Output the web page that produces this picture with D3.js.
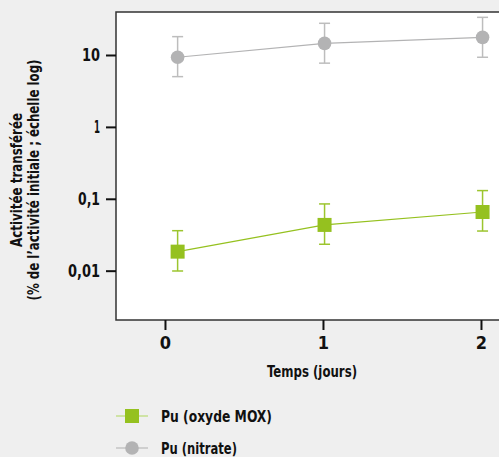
<!DOCTYPE html>
<html><head><meta charset="utf-8">
<script src="https://cdn.jsdelivr.net/npm/d3@7"></script>
<style>
body{margin:0;background:#efefef;}
svg{display:block;}
text{font-family:"DejaVu Sans Condensed","Liberation Sans Narrow",sans-serif;font-weight:bold;fill:#111;}
</style></head>
<body><svg id="c" width="499" height="457"></svg>
<script>
const days = [0.08, 1.01, 2.01];
const moxValues = [0.0184, 0.0433, 0.0655];
const moxLow = [0.0099, 0.0233, 0.0356];
const moxHigh = [0.036, 0.0848, 0.130];
const nitrateValues = [9.3, 14.5, 17.6];
const nitrateLow = [5.0, 7.7, 9.3];
const nitrateHigh = [18, 27.6, 33.4];
const xTicks = [0, 1, 2];
const yTicks = [0.01, 0.1, 1, 10];
const yTickLabels = ["0,01", "0,1", "1", "10"];
const seriesNames = ["Pu (oxyde MOX)", "Pu (nitrate)"];

const svg = d3.select("#c");
const L = 116, T = 12, B = 320, R = 520;
const x = d3.scaleLinear().domain([-0.31, 2.43]).range([L, L + (2.43 + 0.31) * 158]);
const y = d3.scaleLog().domain([Math.pow(10, -2.686), Math.pow(10, 1.598)]).range([B, T]);

svg.append("rect").attr("x", L).attr("y", T).attr("width", R - L).attr("height", B - T)
  .attr("fill", "#fff").attr("stroke", "#333").attr("stroke-width", 1.5);

const xAxis = svg.append("g").attr("transform", `translate(0,${B})`)
  .call(d3.axisBottom(x).tickValues(xTicks).tickFormat(d3.format("d")).tickSize(10).tickPadding(6));
xAxis.select(".domain").remove();
xAxis.selectAll("line").attr("stroke", "#111").attr("stroke-width", 2);
xAxis.selectAll("text").style("font-size", "18px").attr("fill", "#111");

const yAxis = svg.append("g").attr("transform", `translate(${L},0)`)
  .call(d3.axisLeft(y).tickValues(yTicks).tickFormat((d, i) => yTickLabels[i]).tickSize(10).tickPadding(6));
yAxis.select(".domain").remove();
yAxis.selectAll("line").attr("stroke", "#111").attr("stroke-width", 2);
yAxis.selectAll("text").style("font-size", "18px").attr("fill", "#111")
  .attr("textLength", (d, i) => [32, 22, 6, 18][i]).attr("lengthAdjust", "spacingAndGlyphs");

svg.append("text").attr("x", 312).attr("y", 377).attr("text-anchor", "middle")
  .style("font-size", "16.5px").attr("textLength", 90).attr("lengthAdjust", "spacingAndGlyphs")
  .text("Temps (jours)");

const yt = svg.append("text").attr("transform", "translate(22,180) rotate(-90)")
  .attr("text-anchor", "middle").style("font-size", "15px");
yt.append("tspan").attr("x", 0).attr("dy", 0).attr("textLength", 134).attr("lengthAdjust", "spacingAndGlyphs").text("Activitée transférée");
yt.append("tspan").attr("x", 0).attr("dy", 17).attr("textLength", 241).attr("lengthAdjust", "spacingAndGlyphs").text("(% de l’activité initiale ; échelle log)");

const plot = svg.append("g");
function drawSeries(vals, lo, hi, color, errColor, shape) {
  const line = d3.line().x((d, i) => x(days[i])).y(d => y(d));
  plot.append("path").datum(vals).attr("d", line).attr("fill", "none")
    .attr("stroke", color).attr("stroke-width", 1.2);
  vals.forEach((v, i) => {
    const cx = x(days[i]);
    const g = plot.append("g");
    g.append("line").attr("x1", cx).attr("x2", cx).attr("y1", y(lo[i])).attr("y2", y(hi[i]))
      .attr("stroke", errColor).attr("stroke-width", 1.5);
    [lo[i], hi[i]].forEach(e => g.append("line").attr("x1", cx - 5.5).attr("x2", cx + 5.5)
      .attr("y1", y(e)).attr("y2", y(e)).attr("stroke", errColor).attr("stroke-width", 1.5));
    if (shape === "square") {
      g.append("rect").attr("x", cx - 7).attr("y", y(v) - 7).attr("width", 14).attr("height", 14).attr("fill", color);
    } else {
      g.append("circle").attr("cx", cx).attr("cy", y(v)).attr("r", 6.8).attr("fill", color);
    }
  });
}
drawSeries(nitrateValues, nitrateLow, nitrateHigh, "#b3b3b4", "#bdbdbd", "circle");
drawSeries(moxValues, moxLow, moxHigh, "#95c11f", "#9cc52e", "square");

const leg = [
  {name: seriesNames[0], color: "#95c11f", line: "#c5df8c", shape: "square", yy: 416, w: 111},
  {name: seriesNames[1], color: "#b3b3b4", line: "#c4c4c4", shape: "circle", yy: 448, w: 76}
];
leg.forEach(l => {
  svg.append("line").attr("x1", 116).attr("x2", 148).attr("y1", l.yy).attr("y2", l.yy)
    .attr("stroke", l.line).attr("stroke-width", 1.5);
  if (l.shape === "square") svg.append("rect").attr("x", 125).attr("y", l.yy - 7).attr("width", 14).attr("height", 14).attr("fill", l.color);
  else svg.append("circle").attr("cx", 132).attr("cy", l.yy).attr("r", 6.8).attr("fill", l.color);
  svg.append("text").attr("x", 161).attr("y", l.yy + 5.5).style("font-size", "15.5px")
    .attr("textLength", l.w).attr("lengthAdjust", "spacingAndGlyphs").text(l.name);
});
</script></body></html>
